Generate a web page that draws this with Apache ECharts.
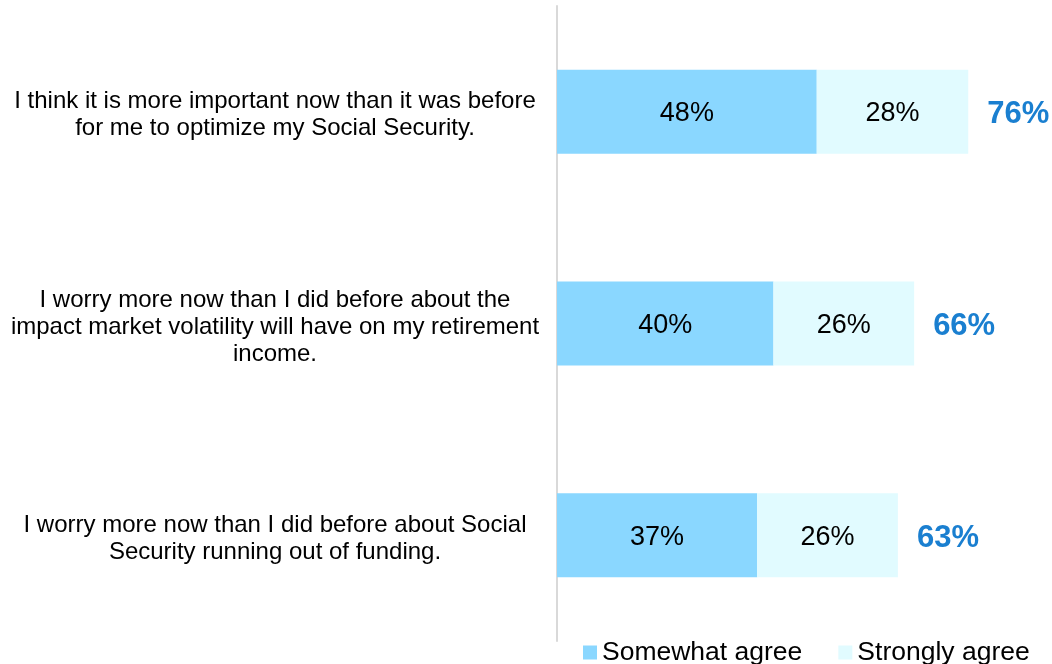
<!DOCTYPE html>
<html>
<head>
<meta charset="utf-8">
<style>
  html, body { margin: 0; padding: 0; background: #fff; }
  #chart { width: 1052px; height: 664px; }
</style>
<script src="https://cdn.jsdelivr.net/npm/echarts@6/dist/echarts.min.js"></script>
</head>
<body>
<div id="chart"></div>
<script>
const categories = [
  'I think it is more important now than it was before\nfor me to optimize my Social Security.',
  'I worry more now than I did before about the\nimpact market volatility will have on my retirement\nincome.',
  'I worry more now than I did before about Social\nSecurity running out of funding.',
];
const somewhat = [48, 40, 37];
const strongly = [28, 26, 26];
const totals = [76, 66, 63];

const FONT = '"Liberation Sans", Arial, sans-serif';

const chart = echarts.init(document.getElementById('chart'), null, { renderer: 'canvas' });
chart.setOption({
  backgroundColor: '#fff',
  animation: false,
  textStyle: { fontFamily: FONT },
  legend: {
    data: ['Somewhat agree', 'Strongly agree'],
    left: 578, top: 634,
    itemWidth: 14, itemHeight: 14, itemGap: 36,
    icon: 'rect',
    textStyle: { fontSize: 26.5, color: '#000', fontFamily: FONT },
  },
  grid: { left: 557, right: 8, top: 6, bottom: 23, outerBoundsMode: 'none' },
  xAxis: {
    type: 'value', min: 0, max: 90,
    show: false, splitLine: { show: false },
  },
  yAxis: {
    type: 'category', data: categories, inverse: true,
    axisLine: { show: true, lineStyle: { color: '#d9d9d9', width: 2 } },
    axisTick: { show: false },
    axisLabel: {
      margin: 10, align: 'right', width: 544, overflow: 'none',
      padding: [7, 0, 0, 0],
      formatter: v => v.split('\n').map(s => '{c|' + s + '}').join('\n'),
      rich: {
        c: { align: 'center', fontSize: 24, lineHeight: 27, color: '#000', fontFamily: FONT },
      },
    },
  },
  series: [
    {
      name: 'Somewhat agree', type: 'bar', stack: 'a', barWidth: 84,
      data: somewhat,
      itemStyle: { color: '#8ad7ff' },
      label: { show: true, position: 'inside', offset: [0, 2], formatter: '{c}%', fontSize: 27, color: '#000', fontFamily: FONT },
    },
    {
      name: 'Strongly agree', type: 'bar', stack: 'a', barWidth: 84,
      data: strongly,
      itemStyle: { color: '#e1fbff' },
      label: { show: true, position: 'inside', offset: [0, 2], formatter: '{c}%', fontSize: 27, color: '#000', fontFamily: FONT },
    },
    {
      name: 'Total', type: 'bar', barWidth: 84, barGap: '-100%',
      data: totals,
      itemStyle: { color: 'rgba(0,0,0,0)' },
      label: { show: true, position: 'right', distance: 19, offset: [0, 3], formatter: '{c}%', fontSize: 31, fontWeight: 'bold', color: '#1a7fd0', fontFamily: FONT },
      silent: true,
    },
  ],
});
</script>
</body>
</html>
